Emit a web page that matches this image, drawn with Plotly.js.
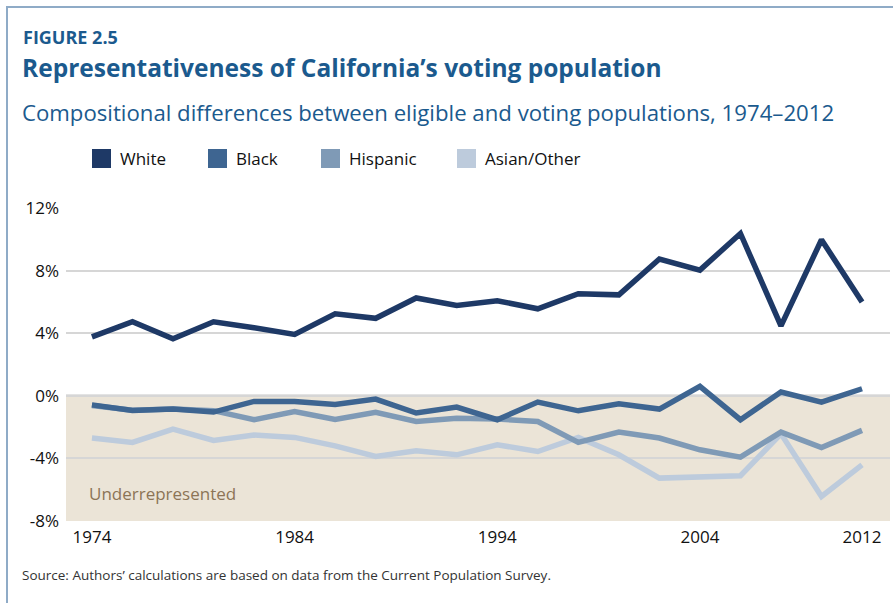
<!DOCTYPE html>
<html>
<head>
<meta charset="utf-8">
<script src="https://cdn.plot.ly/plotly-3.0.1.min.js"></script>
<style>
  html, body { margin: 0; padding: 0; background: #ffffff; }
  #wrap { position: relative; width: 893px; height: 603px; overflow: hidden; }
  #chart { position: absolute; left: 0; top: 0; width: 893px; height: 603px; }
  #frame { position: absolute; left: 6px; top: 6px; width: 900px; height: 700px;
           border-left: 2px solid #8fabc7; border-top: 2px solid #8fabc7; pointer-events: none; }
</style>
</head>
<body>
<div id="wrap">
  <div id="chart"></div>
  <div id="frame"></div>
</div>
<script>
// ---- data ----
const years = [1974, 1976, 1978, 1980, 1982, 1984, 1986, 1988, 1990, 1992,
               1994, 1996, 1998, 2000, 2002, 2004, 2006, 2008, 2010, 2012];
const seriesNames = ["White", "Black", "Hispanic", "Asian/Other"];
const white    = [3.77, 4.73, 3.64, 4.73, 4.35, 3.92, 5.24, 4.95, 6.25, 5.77,
                  6.07, 5.56, 6.52, 6.45, 8.74, 8.03, 10.37, 4.47, 9.97, 6.0];
const black    = [-0.58, -0.94, -0.85, -1.04, -0.36, -0.36, -0.56, -0.21, -1.1, -0.72,
                  -1.53, -0.4, -0.96, -0.51, -0.85, 0.6, -1.53, 0.24, -0.4, 0.45];
const hispanic = [-0.62, -0.92, -0.84, -0.95, -1.53, -1.0, -1.51, -1.06, -1.64, -1.43,
                  -1.49, -1.64, -2.98, -2.32, -2.7, -3.45, -3.92, -2.32, -3.3, -2.21];
const asian    = [-2.7, -2.98, -2.13, -2.85, -2.51, -2.66, -3.2, -3.88, -3.51, -3.77,
                  -3.13, -3.56, -2.66, -3.77, -5.26, -5.22, -5.11, -2.43, -6.43, -4.41];
const yTickVals = [12, 8, 4, 0, -4, -8];
const yTickText = ["12%", "8%", "4%", "0%", "-4%", "-8%"];
const xTickVals = [1974, 1984, 1994, 2004, 2012];
const xTickText = ["1974", "1984", "1994", "2004", "2012"];

// ---- styles ----
const colors = ["#1e3966", "#3e6591", "#7f9ab6", "#bdcbdc"];
const seriesData = [white, black, hispanic, asian];
const FONT = "Open Sans, sans-serif";

// draw order: Asian, Hispanic, Black, White (White on top)
const order = [3, 2, 1, 0];
const traces = order.map(i => ({
  type: "scatter",
  mode: "lines",
  x: years,
  y: seriesData[i],
  name: seriesNames[i],
  line: { color: colors[i], width: 5.5, shape: "linear" },
  showlegend: false,
  hoverinfo: "x+y+name"
}));

// legend (manual, square swatches)
const legendX = [92, 208, 321, 457];   // swatch left edges in px
const shapes = [
  { type: "rect", xref: "x", yref: "y", x0: 1972.72, x1: 2013.38, y0: -8, y1: 0,
    fillcolor: "#ebe4d7", line: { width: 0 }, layer: "below" },
  { type: "line", xref: "paper", yref: "y", x0: 0, x1: 1, y0: 0, y1: 0,
    line: { color: "#909090", width: 2 }, layer: "below" }
];
const W = 893, H = 603, ML = 66, MR = 3, MT = 208, MB = 82;
const pw = W - ML - MR, ph = H - MT - MB;
const px2x = p => (p - ML) / pw;
const py2y = p => (H - MB - p) / ph;

const annotations = [];
seriesNames.forEach((n, i) => {
  shapes.push({ type: "rect", xref: "paper", yref: "paper",
    x0: px2x(legendX[i]), x1: px2x(legendX[i] + 19),
    y0: py2y(168), y1: py2y(149),
    fillcolor: colors[i], line: { width: 0 } });
  annotations.push({ xref: "paper", yref: "paper", x: px2x(legendX[i] + 26), y: py2y(158.5),
    xanchor: "left", yanchor: "middle", showarrow: false, text: n,
    font: { family: FONT, size: 17, color: "#111111" } });
});

annotations.push(
  { xref: "paper", yref: "paper", x: px2x(21), y: py2y(37), xanchor: "left", yanchor: "middle",
    showarrow: false, text: "<b>FIGURE 2.5</b>", font: { family: FONT, size: 18, color: "#1b5a8e" } },
  { xref: "paper", yref: "paper", x: px2x(20), y: py2y(67), xanchor: "left", yanchor: "middle",
    showarrow: false, text: "<b>Representativeness of California’s voting population</b>",
    font: { family: FONT, size: 24.5, color: "#1b5a8e" } },
  { xref: "paper", yref: "paper", x: px2x(20), y: py2y(113), xanchor: "left", yanchor: "middle",
    showarrow: false, text: "Compositional differences between eligible and voting populations, 1974–2012",
    font: { family: FONT, size: 22.2, color: "#1b5a8e" } },
  { xref: "paper", yref: "y", x: px2x(87), y: -6.25, xanchor: "left", yanchor: "middle",
    showarrow: false, text: "Underrepresented", font: { family: FONT, size: 17, color: "#8c7456" } },
  { xref: "paper", yref: "paper", x: px2x(20), y: py2y(575), xanchor: "left", yanchor: "middle",
    showarrow: false, text: "Source: Authors’ calculations are based on data from the Current Population Survey.",
    font: { family: FONT, size: 13.5, color: "#333333" } }
);

const layout = {
  width: W, height: H,
  margin: { l: ML, r: MR, t: MT, b: MB, pad: 0 },
  paper_bgcolor: "#ffffff",
  plot_bgcolor: "#ffffff",
  showlegend: false,
  xaxis: {
    range: [1972.72, 2013.38],
    tickvals: xTickVals, ticktext: xTickText,
    showgrid: false, zeroline: false, showline: false, ticks: "",
    tickfont: { family: FONT, size: 17, color: "#111111" },
    ticklabelstandoff: 4
  },
  yaxis: {
    range: [-8, 12],
    tickvals: yTickVals, ticktext: yTickText,
    showgrid: true, gridcolor: "#d6d6d6", gridwidth: 2,
    zeroline: false, showline: false, ticks: "",
    tickfont: { family: FONT, size: 17, color: "#111111" },
    ticklabelstandoff: 6
  },
  shapes: shapes,
  annotations: annotations,
  font: { family: FONT }
};

Plotly.newPlot("chart", traces, layout, { displayModeBar: false, staticPlot: true });
</script>
</body>
</html>
